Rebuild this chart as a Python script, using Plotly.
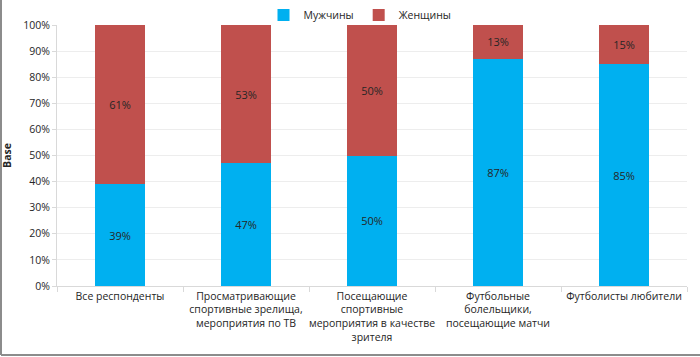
import plotly.graph_objects as go

categories = [
    "Все респонденты",
    "Просматривающие<br>спортивные зрелища,<br>мероприятия по ТВ",
    "Посещающие<br>спортивные<br>мероприятия в качестве<br>зрителя",
    "Футбольные<br>болельщики,<br>посещающие матчи",
    "Футболисты любители",
]
men = [39, 47, 50, 87, 85]
women = [61, 53, 50, 13, 15]
y_ticks = list(range(0, 101, 10))
y_tick_labels = [f"{v}%" for v in y_ticks]

FONT = "Open Sans, Noto Sans, sans-serif"

fig = go.Figure()
fig.add_trace(go.Bar(
    name="Мужчины", x=categories, y=men,
    marker=dict(color="#00B0F0", line=dict(width=0)),
    text=[f"{v}%" for v in men], textposition="inside",
    insidetextanchor="middle",
    textfont=dict(color="#262626", size=11, family=FONT),
))
fig.add_trace(go.Bar(
    name="Женщины", x=categories, y=women,
    marker=dict(color="#C0504D", line=dict(width=0)),
    text=[f"{v}%" for v in women], textposition="inside",
    insidetextanchor="middle",
    textfont=dict(color="#262626", size=11, family=FONT),
))

fig.update_layout(
    width=700, height=357,
    barmode="stack", bargap=0.6,
    paper_bgcolor="white", plot_bgcolor="white",
    margin=dict(l=57, r=13, t=25, b=71, autoexpand=False),
    font=dict(family=FONT, size=10.5, color="#262626"),
    uniformtext=dict(minsize=8, mode="show"),
    legend=dict(orientation="h", x=0.5 - 12 / 630, xanchor="center",
                y=1 + 10 / 261, yanchor="middle", bgcolor="rgba(0,0,0,0)",
                font=dict(size=10.5), itemwidth=30, traceorder="normal",
                itemclick=False),
    xaxis=dict(
        type="category", tickson="boundaries", ticks="outside", ticklen=5,
        tickcolor="#D9D9D9", showline=True, linecolor="#D9D9D9", linewidth=1,
        showgrid=False, tickfont=dict(size=10.5), tickangle=0, automargin=False,
    ),
    yaxis=dict(
        range=[0, 100], tickvals=y_ticks, ticktext=y_tick_labels,
        ticks="outside", ticklen=4, tickcolor="#D9D9D9",
        showline=True, linecolor="#D9D9D9", linewidth=1,
        showgrid=True, gridcolor="#EDEDED", gridwidth=1,
        zeroline=False, tickfont=dict(size=10.5), automargin=False,
        title=dict(text="<b>Base</b>", font=dict(size=10.5), standoff=16),
    ),
    shapes=[
        dict(type="line", xref="paper", yref="paper",
             x0=(1 - 57) / 630, x1=(1 - 57) / 630, y0=-(355 - 286) / 261, y1=1.2,
             line=dict(color="#8C8C8C", width=2)),
        dict(type="line", xref="paper", yref="paper",
             x0=(1 - 57) / 630, x1=1.1, y0=-(355 - 286) / 261, y1=-(355 - 286) / 261,
             line=dict(color="#8C8C8C", width=2)),
    ],
)

fig.write_html("out.html", config={"displayModeBar": False},
               post_script="document.body.style.margin='0';")
